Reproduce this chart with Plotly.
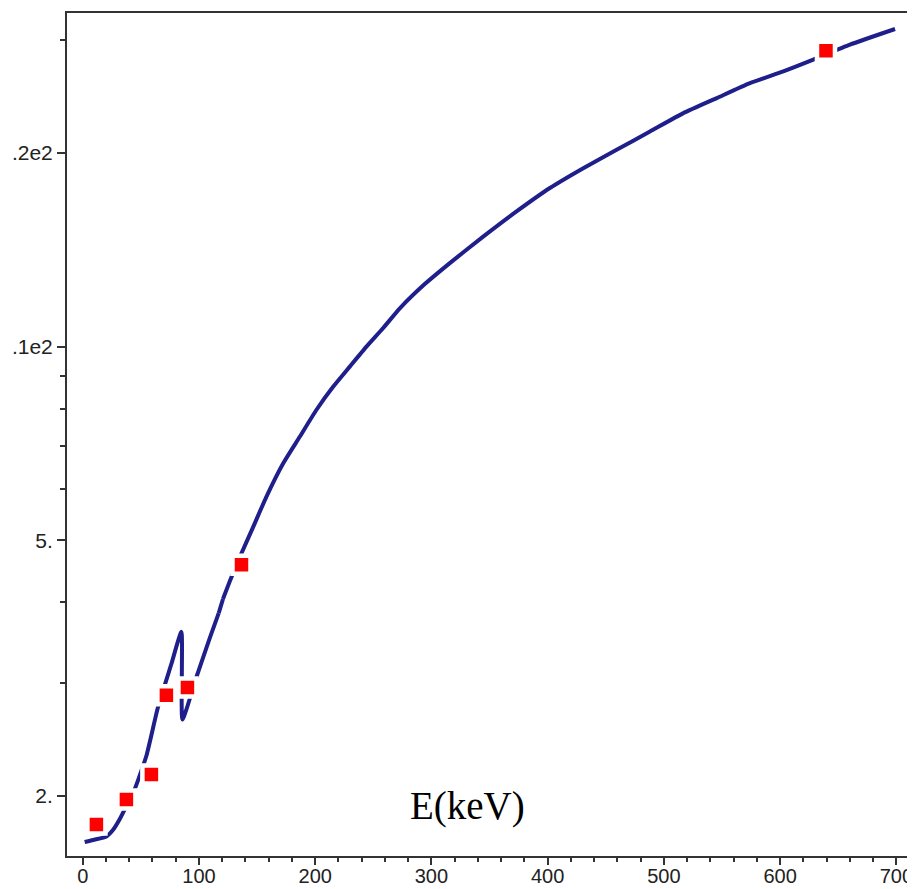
import plotly.graph_objects as go
import math

# Curve
curve_E = [1.7, 10.0, 20.4, 26.0, 31.8, 37.0, 44.8, 54.8, 64.8, 76.3, 84.9, 85.8, 97.8, 109.3,
           117.0, 120.7, 128.0, 136.6, 146.6, 158.0, 172.4, 186.7, 201.0, 215.4,
           229.8, 244.1, 258.5, 272.8, 294.0, 315.8, 344.5, 373.2, 401.9, 430.6, 459.3,
           488.0, 516.7, 545.4, 574.0, 602.7, 628.5, 660.0, 698.8]
curve_val = [1.696, 1.71, 1.73, 1.77, 1.84, 1.92, 2.05, 2.31, 2.75, 3.21, 3.60, 2.63, 3.06, 3.52,
             3.85, 4.05, 4.38, 4.77, 5.24, 5.84, 6.58, 7.24, 7.97, 8.66,
             9.31, 10.0, 10.69, 11.47, 12.5, 13.49, 14.83, 16.23, 17.65, 18.95, 20.24,
             21.61, 23.08, 24.36, 25.7, 26.8, 27.95, 29.5, 31.2]

# Measured points
point_E = [11.8, 37.6, 59.1, 72.0, 90.1, 136.6, 639.4]
point_val = [1.805, 1.974, 2.16, 2.87, 2.95, 4.58, 28.86]

# Axis ticks
x_ticks = [0, 100, 200, 300, 400, 500, 600, 700]
y_ticks = [2, 5, 10, 20]
y_tick_text = ["2.", "5.", ".1e2", ".2e2"]
y_minor = [3, 4, 6, 7, 8, 9, 30]

# index of the absorption-edge peak (the curve drops sharply right after it)
edge = curve_val.index(max(curve_val[:15]))

line_style = dict(color="#1f1f8c", width=4)
fig = go.Figure()
segments = [
    (slice(0, edge + 1), "spline"),
    (slice(edge, edge + 2), "linear"),
    (slice(edge + 1, None), "spline"),
]
for sl, shape in segments:
    fig.add_trace(go.Scatter(x=curve_E[sl], y=curve_val[sl], mode="lines",
                             line=dict(**line_style, shape=shape,
                                       **({"smoothing": 0.5} if shape == "spline" else {})),
                             showlegend=False, hoverinfo="skip"))
fig.add_trace(go.Scatter(x=point_E, y=point_val, mode="markers",
                         marker=dict(symbol="square", size=18, color="#ff0000",
                                     line=dict(color="white", width=4.5)),
                         showlegend=False))

ytickfont = dict(family="Liberation Sans, Arial, sans-serif", size=21, color="#222222")
xtickfont = dict(family="Liberation Sans, Arial, sans-serif", size=20, color="#222222")

# page body adds an 8px offset, so the figure is sized to fit the window
fig.update_layout(
    width=907, height=881,
    margin=dict(l=59, r=3, t=5, b=33),
    paper_bgcolor="white", plot_bgcolor="white",
    xaxis=dict(range=[-13.5, 713.4], tickmode="array", tickvals=x_ticks,
               ticks="outside", ticklen=7, tickwidth=2, tickcolor="#333333",
               showline=True, linewidth=2, linecolor="#333333", mirror=True,
               showgrid=False, zeroline=False, tickfont=xtickfont, automargin=False,
               ticklabelstandoff=-6,
               minor=dict(dtick=20, tick0=0, ticks="outside", ticklen=4,
                          tickwidth=2, tickcolor="#333333", showgrid=False)),
    yaxis=dict(type="log", range=[math.log10(1.613), math.log10(33.04)],
               tickmode="array", tickvals=y_ticks, ticktext=y_tick_text,
               ticks="outside", ticklen=8, tickwidth=2, tickcolor="#333333",
               showline=True, linewidth=2, linecolor="#333333", mirror=True,
               showgrid=False, zeroline=False, tickfont=ytickfont, automargin=False,
               minor=dict(tickvals=y_minor, ticks="outside", ticklen=5,
                          tickwidth=2, tickcolor="#333333", showgrid=False)),
    annotations=[dict(text="E(keV)", xref="paper", yref="paper", x=0.474, y=0.059,
                      xanchor="center", yanchor="middle", showarrow=False,
                      font=dict(family="Liberation Serif, Times New Roman, serif",
                                size=39, color="black"))],
)

fig.write_html("out.html")
